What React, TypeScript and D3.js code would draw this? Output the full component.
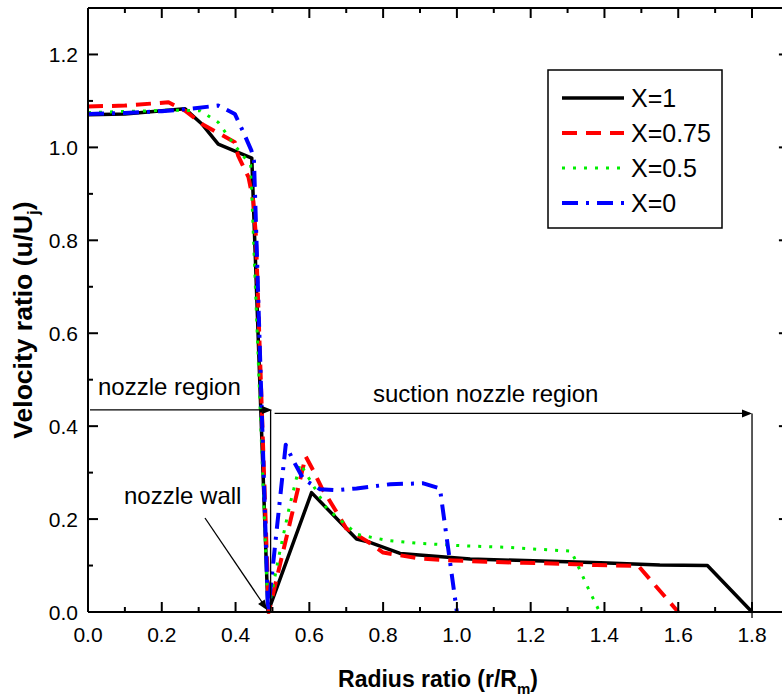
import React from "react";
import * as d3 from "d3";

// ---- data ----
const xTicks = [0, 0.2, 0.4, 0.6, 0.8, 1.0, 1.2, 1.4, 1.6, 1.8];
const yTicks = [0, 0.2, 0.4, 0.6, 0.8, 1.0, 1.2];

const seriesNames = ["X=1", "X=0.75", "X=0.5", "X=0"];

const dataX1: [number, number][] = [
  [0, 1.07], [0.1, 1.072], [0.263, 1.083], [0.308, 1.051], [0.353, 1.007],
  [0.444, 0.977], [0.488, 0], [0.606, 0.257], [0.728, 0.157], [0.764, 0.15],
  [0.846, 0.126], [1.036, 0.114], [1.39, 0.106], [1.55, 0.101], [1.679, 0.1], [1.8, 0],
];
const dataX075: [number, number][] = [
  [0, 1.088], [0.1, 1.09], [0.218, 1.097], [0.263, 1.079], [0.31, 1.05], [0.398, 1.011],
  [0.407, 0.982], [0.435, 0.936], [0.448, 0.885], [0.455, 0.81], [0.49, 0],
  [0.59, 0.335], [0.611, 0.304], [0.633, 0.268], [0.67, 0.22], [0.7, 0.18],
  [0.755, 0.153], [0.8, 0.128], [0.9, 0.115], [0.99, 0.111], [1.08, 0.108],
  [1.18, 0.106], [1.28, 0.104], [1.379, 0.101], [1.492, 0.099], [1.6, 0],
];
const dataX05: [number, number][] = [
  [0, 1.075], [0.22, 1.08], [0.304, 1.079], [0.353, 1.054], [0.398, 1.004],
  [0.441, 0.962], [0.488, 0], [0.519, 0.126], [0.545, 0.223], [0.575, 0.32],
  [0.647, 0.223], [0.678, 0.202], [0.73, 0.167], [0.76, 0.162], [0.812, 0.154],
  [0.896, 0.148], [1.004, 0.143], [1.139, 0.139], [1.221, 0.135], [1.31, 0.131],
  [1.356, 0.051], [1.387, 0],
];
const dataX0: [number, number][] = [
  [0, 1.072], [0.1, 1.074], [0.2, 1.078], [0.263, 1.082], [0.353, 1.09],
  [0.398, 1.072], [0.421, 1.033], [0.443, 0.993], [0.45, 0.97], [0.488, 0],
  [0.536, 0.36], [0.557, 0.325], [0.584, 0.286], [0.629, 0.264], [0.674, 0.262],
  [0.728, 0.266], [0.819, 0.275], [0.909, 0.277], [0.954, 0.266], [1.0, 0],
];

const seriesData = [dataX1, dataX075, dataX05, dataX0];
const seriesColors = ["#000000", "#ff0000", "#00ee00", "#0000ff"];
const seriesDash = ["none", "15,9", "3,8", "16,8,3,8"];
const seriesWidth = [3.5, 4, 3, 4];

// annotation anchor values (data units)
const wallX = 0.495;
const suctionEndX = 1.8;
const regionY = 0.435;

export default function App() {
  const W = 782, H = 696;
  const left = 88, top = 8, bottom = 612;
  const x = d3.scaleLinear().domain([0, 1.9]).range([left, left + 1.9 * 368.9]);
  const y = d3.scaleLinear().domain([0, 1.3]).range([bottom, top]);
  const right = x(1.9);

  const line = d3.line<[number, number]>().x(d => x(d[0])).y(d => y(d[1]));

  const minorX = d3.range(0, 19).map(i => i * 0.1);
  const minorY = d3.range(0, 13).map(i => i * 0.1);
  const isMajor = (v: number) => Math.abs(Math.round(v * 10) % 2) === 0;

  const font = "Arial, 'Liberation Sans', Helvetica, sans-serif";

  const arrowHead = (x2: number, y2: number, x1: number, y1: number) => {
    const a = Math.atan2(y2 - y1, x2 - x1);
    const L = 10, w = 4;
    const bx = x2 - L * Math.cos(a), by = y2 - L * Math.sin(a);
    const px = -Math.sin(a) * w, py = Math.cos(a) * w;
    return `M${x2},${y2}L${bx + px},${by + py}L${bx - px},${by - py}Z`;
  };

  const wx = x(wallX);
  const sx = x(suctionEndX);
  const ry1 = y(regionY);

  return (
    <svg width={W} height={H} style={{ position: "absolute", left: 0, top: 0, display: "block", background: "#fff" }}
      fontFamily={font}>
      <rect x={0} y={0} width={W} height={H} fill="#fff" />
      {/* series */}
      {seriesData.map((d, i) => (
        <path key={i} d={line(d) || ""} fill="none" stroke={seriesColors[i]}
          strokeWidth={seriesWidth[i]} strokeDasharray={seriesDash[i]} strokeLinejoin="round" />
      ))}

      {/* frame */}
      <g stroke="#000" strokeWidth={2} fill="none">
        <line x1={left} y1={top} x2={left} y2={bottom} />
        <line x1={left} y1={bottom} x2={W + 10} y2={bottom} />
        <line x1={left} y1={top} x2={W + 10} y2={top} />
        <line x1={right} y1={top} x2={right} y2={bottom} />
        {minorX.map((v, i) => {
          const len = isMajor(v) ? 10 : 5;
          return (
            <g key={"tx" + i}>
              <line x1={x(v)} x2={x(v)} y1={bottom} y2={bottom - len} />
              <line x1={x(v)} x2={x(v)} y1={top} y2={top + len} />
            </g>
          );
        })}
        {minorY.map((v, i) => {
          const len = isMajor(v) ? 10 : 5;
          return (
            <g key={"ty" + i}>
              <line x1={left} x2={left + len} y1={y(v)} y2={y(v)} />
              <line x1={right} x2={right - len} y1={y(v)} y2={y(v)} />
            </g>
          );
        })}
      </g>

      {/* tick labels */}
      {xTicks.map((v, i) => (
        <text key={"xl" + i} x={x(v)} y={642} fontSize={21} textAnchor="middle" fill="#000">
          {v.toFixed(1)}
        </text>
      ))}
      {yTicks.map((v, i) => (
        <text key={"yl" + i} x={78} y={y(v) + 7.5} fontSize={21} textAnchor="end" fill="#000">
          {v.toFixed(1)}
        </text>
      ))}

      {/* axis titles */}
      <text x={438} y={687} fontSize={23} fontWeight="bold" textAnchor="middle" fill="#000">
        Radius ratio (r/R<tspan fontSize={15} dy={7}>m</tspan><tspan dy={-7}>)</tspan>
      </text>
      <text transform={`translate(32,320) rotate(-90)`} fontSize={26.5} fontWeight="bold" textAnchor="middle" fill="#000">
        Velocity ratio (u/U<tspan fontSize={17} dy={7}>j</tspan><tspan dy={-7}>)</tspan>
      </text>

      {/* annotations */}
      <g stroke="#000" strokeWidth={1.3} fill="none">
        <line x1={90} y1={ry1} x2={wx - 1} y2={ry1} />
        <line x1={wx} y1={ry1} x2={wx} y2={bottom} />
        <line x1={wx + 4} y1={ry1 + 3.5} x2={sx - 2} y2={ry1 + 3.5} />
        <line x1={sx} y1={ry1 + 3.5} x2={sx} y2={bottom + 6} />
        <line x1={205} y1={518} x2={266} y2={608} />
      </g>
      <g fill="#000">
        <path d={arrowHead(wx + 1.5, ry1, 90, ry1)} />
        <path d={arrowHead(sx, ry1 + 3.5, wx, ry1 + 3.5)} />
        <path d={arrowHead(267, 610, 205, 518)} />
      </g>
      <text x={98} y={395} fontSize={24} fill="#000">nozzle region</text>
      <text x={373} y={402} fontSize={24} fill="#000">suction nozzle region</text>
      <text x={124} y={504} fontSize={24} fill="#000">nozzle wall</text>

      {/* legend */}
      <rect x={548} y={70} width={174} height={158} fill="#fff" stroke="#000" strokeWidth={1.5} />
      {seriesNames.map((n, i) => {
        const ly = 98 + i * 35;
        return (
          <g key={"lg" + i}>
            <line x1={562} x2={624} y1={ly} y2={ly} stroke={seriesColors[i]} strokeWidth={seriesWidth[i]}
              strokeDasharray={seriesDash[i]} />
            <text x={631} y={ly + 9} fontSize={25} fill="#000">{n}</text>
          </g>
        );
      })}
    </svg>
  );
}
